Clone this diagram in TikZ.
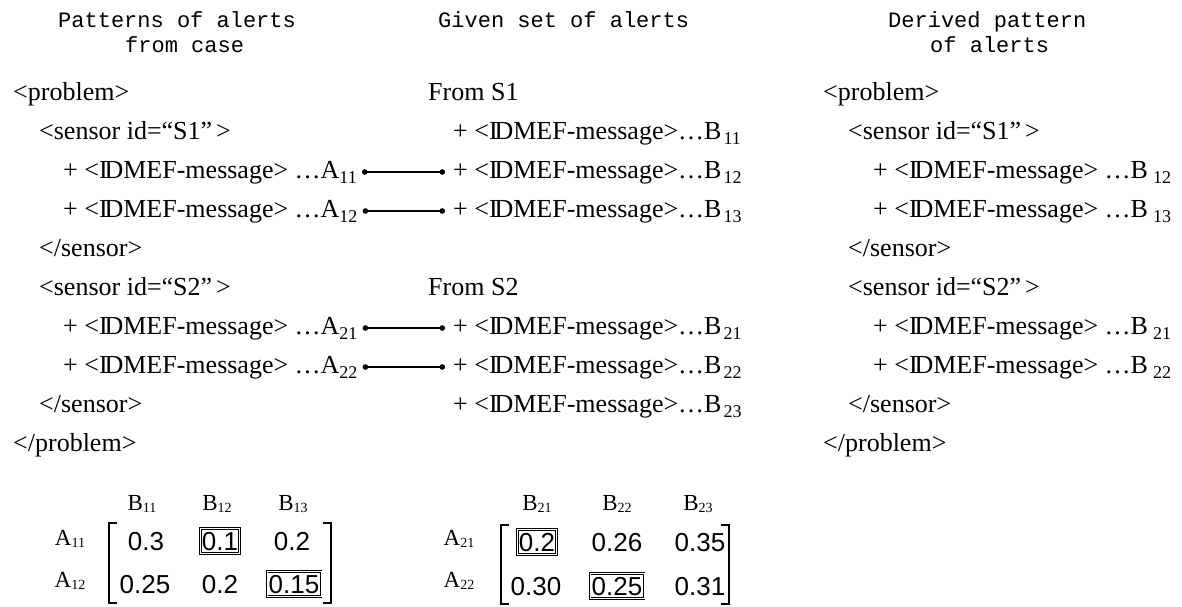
\documentclass[tikz,border=0pt]{standalone}
\usepackage{fontspec}
\setmainfont{Liberation Serif}
\newfontfamily\monofam{Liberation Mono}
\newfontfamily\numfam{Liberation Sans}
\usetikzlibrary{arrows.meta}

% subscripts of the XML lines and of the matrix labels
\newcommand\lsub[1]{\raisebox{-0.22em}{\fontsize{18}{18}\selectfont #1}}
\newcommand\msub[1]{\raisebox{-0.12em}{\fontsize{14}{14}\selectfont #1}}
\newcommand\idmef{<I\kern-0.12em DMEF-message>}

\begin{document}
\begin{tikzpicture}[x=1pt,y=-1pt,
  xml/.style={anchor=base west, inner sep=0pt, font=\fontsize{26}{30}\selectfont},
  hdr/.style={anchor=base west, inner sep=0pt, font=\monofam\fontsize{22}{26}\selectfont},
  link/.style={line width=1.4pt, {Circle[length=5.5pt]}-{Circle[length=5.5pt]}},
  lab/.style={anchor=base, inner sep=0pt, font=\fontsize{23}{23}\selectfont},
  val/.style={anchor=base, inner sep=0pt, font=\numfam\fontsize{26}{26}\selectfont},
  pick/.style={val, draw, double, line width=0.9pt, double distance=0.6pt,
    inner xsep=1.5pt, inner ysep=1.5pt, text height=20pt, text depth=2pt},
  brk/.style={line width=1.4pt}]
\useasboundingbox (0,0) rectangle (1182,606);

% column headings
\node[hdr] (h1a) at (58,27) {Patterns of alerts};
\node[hdr] (h1b) at (125,52) {from case};
\node[hdr] (h2)  at (438,27) {Given set of alerts};
\node[hdr] (h3a) at (888,27) {Derived pattern};
\node[hdr] (h3b) at (930,52) {of alerts};

% alerts of the case
\node[xml] (lp)   at (13,100) {<problem>};
\node[xml] (ls1)  at (39,139) {<sensor id=“S1”\kern4pt>};
\node[xml] (la11) at (63,178) {+ \idmef\ …A\lsub{11}};
\node[xml] (la12) at (63,217) {+ \idmef\ …A\lsub{12}};
\node[xml] (le1)  at (39,256) {</sensor>};
\node[xml] (ls2)  at (39,295) {<sensor id=“S2”\kern4pt>};
\node[xml] (la21) at (63,334) {+ \idmef\ …A\lsub{21}};
\node[xml] (la22) at (63,373) {+ \idmef\ …A\lsub{22}};
\node[xml] (le2)  at (39,412) {</sensor>};
\node[xml] (lpe)  at (13,451) {</problem>};

% given alerts
\node[xml] (f1)   at (428,100) {From S1};
\node[xml] (rb11) at (453,139) {+ \idmef…B\kern2pt\lsub{11}};
\node[xml] (rb12) at (453,178) {+ \idmef…B\kern2pt\lsub{12}};
\node[xml] (rb13) at (453,217) {+ \idmef…B\kern2pt\lsub{13}};
\node[xml] (f2)   at (428,295) {From S2};
\node[xml] (rb21) at (453,334) {+ \idmef…B\kern2pt\lsub{21}};
\node[xml] (rb22) at (453,373) {+ \idmef…B\kern2pt\lsub{22}};
\node[xml] (rb23) at (453,412) {+ \idmef…B\kern2pt\lsub{23}};

% derived pattern
\node[xml] (dp)   at (823,100) {<problem>};
\node[xml] (ds1)  at (848,139) {<sensor id=“S1”\kern4pt>};
\node[xml] (db12) at (873,178) {+ \idmef\ …B\kern5pt\lsub{12}};
\node[xml] (db13) at (873,217) {+ \idmef\ …B\kern5pt\lsub{13}};
\node[xml] (de1)  at (848,256) {</sensor>};
\node[xml] (ds2)  at (848,295) {<sensor id=“S2”\kern4pt>};
\node[xml] (db21) at (873,334) {+ \idmef\ …B\kern5pt\lsub{21}};
\node[xml] (db22) at (873,373) {+ \idmef\ …B\kern5pt\lsub{22}};
\node[xml] (de2)  at (848,412) {</sensor>};
\node[xml] (dpe)  at (823,451) {</problem>};

% matched alerts
\foreach \a/\b in {la11/rb12, la12/rb13, la21/rb21, la22/rb22}
  \draw[link] ([xshift=5pt,yshift=6pt]\a.base east) -- ([xshift=-8pt,yshift=6pt]\b.base west);

% similarity matrix of sensor S1
\node[lab] (m1c1) at (142,510) {B\msub{11}};
\node[lab] (m1c2) at (217,510) {B\msub{12}};
\node[lab] (m1c3) at (293,510) {B\msub{13}};
\node[lab] (m1r1) at (70,545) {A\msub{11}};
\node[lab] (m1r2) at (70,587) {A\msub{12}};
\node[val]  (m111) at (146,550) {0.3};
\node[pick] (m112) at (220,550) {0.1};
\node[val]  (m113) at (292,550) {0.2};
\node[val]  (m121) at (145,593) {0.25};
\node[val]  (m122) at (220,593) {0.2};
\node[pick] (m123) at (294,593) {0.15};
\draw[brk] (117,523) -- (109,523) -- (109,603) -- (117,603);
\draw[brk] (323,523) -- (331,523) -- (331,603) -- (323,603);

% similarity matrix of sensor S2
\node[lab] (m2c1) at (537,510) {B\msub{21}};
\node[lab] (m2c2) at (617,510) {B\msub{22}};
\node[lab] (m2c3) at (698,510) {B\msub{23}};
\node[lab] (m2r1) at (459,545) {A\msub{21}};
\node[lab] (m2r2) at (459,587) {A\msub{22}};
\node[pick] (m211) at (537,551) {0.2};
\node[val]  (m212) at (617,551) {0.26};
\node[val]  (m213) at (700,551) {0.35};
\node[val]  (m221) at (536,595) {0.30};
\node[pick] (m222) at (617,595) {0.25};
\node[val]  (m223) at (700,595) {0.31};
\draw[brk] (509,525) -- (501,525) -- (501,604) -- (509,604);
\draw[brk] (721,525) -- (729,525) -- (729,604) -- (721,604);
\end{tikzpicture}
\end{document}
